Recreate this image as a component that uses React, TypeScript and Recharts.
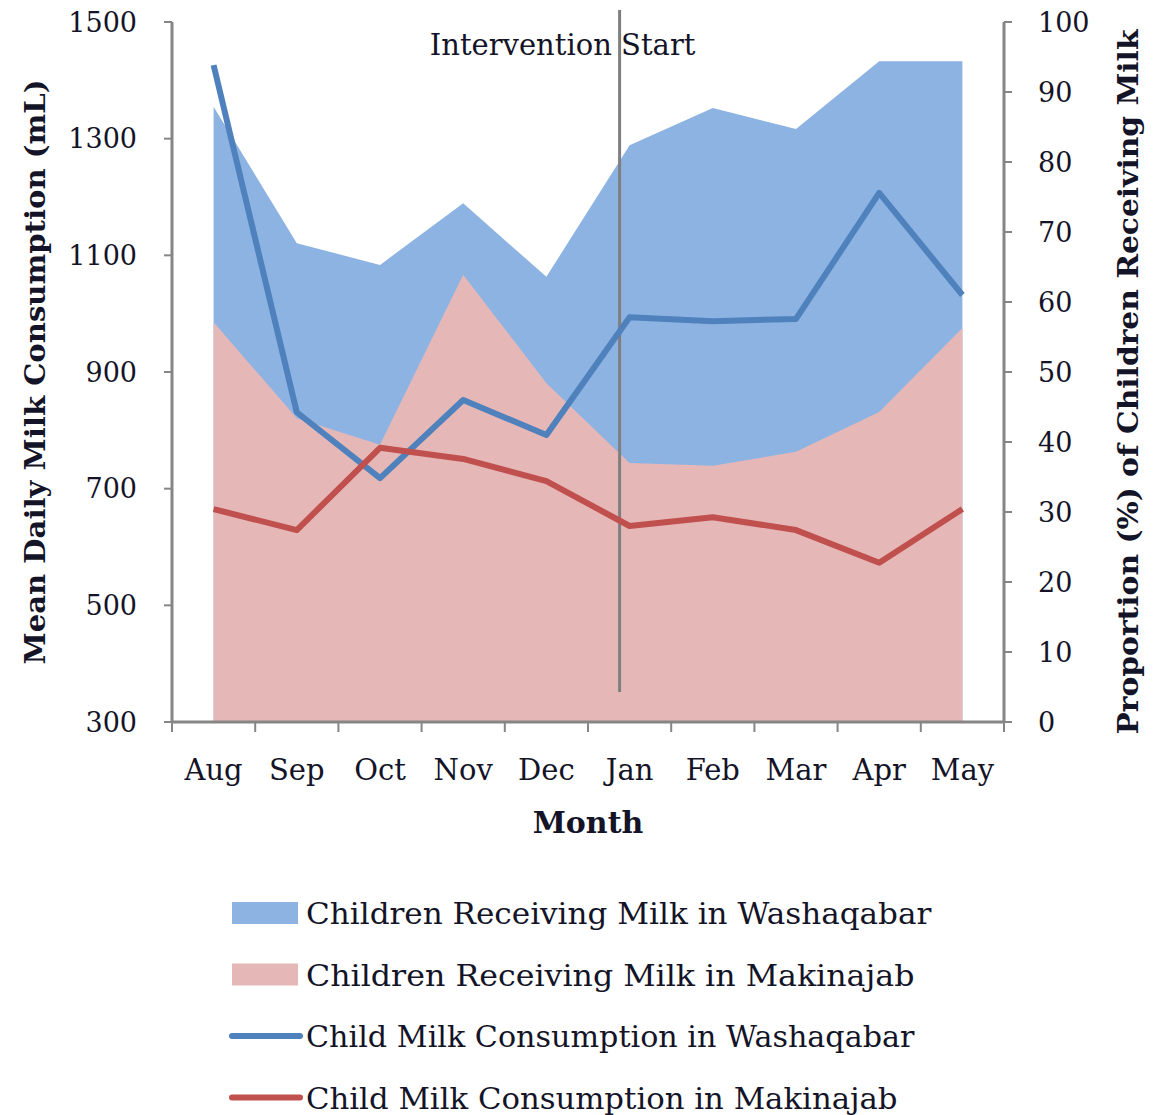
import React from "react";
import { ComposedChart, Area, Line, XAxis, YAxis, ReferenceLine } from "recharts";

// months on the x axis
const months = ["Aug", "Sep", "Oct", "Nov", "Dec", "Jan", "Feb", "Mar", "Apr", "May"];

// % of children receiving milk (right axis)
const receivingWashaqabar = [87.9, 68.4, 65.3, 74.1, 63.6, 82.4, 87.7, 84.7, 94.4, 94.4];
const receivingMakinajab = [57.1, 43.4, 39.6, 63.9, 48.4, 37.0, 36.6, 38.6, 44.3, 56.3];

// mean daily milk consumption in mL (left axis)
const consumptionWashaqabar = [1426, 831, 718, 852, 792, 994, 987, 991, 1207, 1032];
const consumptionMakinajab = [665, 629, 770, 751, 713, 636, 651, 629, 573, 665];

const leftTicks = [300, 500, 700, 900, 1100, 1300, 1500];
const rightTicks = [0, 10, 20, 30, 40, 50, 60, 70, 80, 90, 100];

const interventionMonth = "Jan";

const data = months.map((month, i) => ({
  month,
  recvW: receivingWashaqabar[i],
  recvM: receivingMakinajab[i],
  consW: consumptionWashaqabar[i],
  consM: consumptionMakinajab[i],
}));

const legendItems = [
  { name: "Children Receiving Milk in Washaqabar", color: "#8DB3E2", kind: "area" },
  { name: "Children Receiving Milk in Makinajab", color: "#E5B8B7", kind: "area" },
  { name: "Child Milk Consumption in Washaqabar", color: "#4F81BD", kind: "line" },
  { name: "Child Milk Consumption in Makinajab", color: "#C0504D", kind: "line" },
];

const FONT = "'DejaVu Serif', serif";
const AXIS = "#868686";
const TEXT = "#141428";
const HALF_BAND = 41.6;

const MonthTick = (props: any) => {
  const { x, y, payload, index } = props;
  const last = index === months.length - 1;
  return (
    <g>
      <line x1={x - HALF_BAND} x2={x - HALF_BAND} y1={y} y2={y + 10} stroke={AXIS} strokeWidth={2} />
      {last && <line x1={x + HALF_BAND} x2={x + HALF_BAND} y1={y} y2={y + 10} stroke={AXIS} strokeWidth={2} />}
      <text x={x} y={y + 58} textAnchor="middle" fontSize={29} fontFamily={FONT} fill={TEXT}>
        {payload.value}
      </text>
    </g>
  );
};

const InterventionShape = (props: any) => {
  const { x1, y1, x2, y2 } = props;
  const lx = x1 - 10;
  return (
    <g>
      <line x1={lx} x2={x2 - 10} y1={y1} y2={y2} stroke="#7F7F7F" strokeWidth={3} />
      <text x={lx - 57} y={y1 + 45} textAnchor="middle" fontSize={29} fontFamily={FONT} fill={TEXT}>
        Intervention Start
      </text>
    </g>
  );
};

const Legend4 = () => (
  <svg width={1161} height={235} style={{ position: "absolute", left: 0, top: 880 }}>
    {legendItems.map((item, i) => {
      const cy = 33 + i * 61.5;
      return (
        <g key={item.name}>
          {item.kind === "area" ? (
            <rect x={232} y={cy - 11} width={66} height={22} fill={item.color} />
          ) : (
            <line x1={232} x2={300} y1={cy} y2={cy} stroke={item.color} strokeWidth={6} strokeLinecap="round" />
          )}
          <text
            x={306}
            y={cy + 11}
            fontSize={30}
            fontFamily={FONT}
            fill={TEXT}
            textLength={item.name.length * 16.9}
            lengthAdjust="spacingAndGlyphs"
          >
            {item.name}
          </text>
        </g>
      );
    })}
  </svg>
);

export default function App() {
  return (
    <div style={{ position: "absolute", left: 0, top: 0, width: 1161, height: 1115, background: "#fff" }}>
      <ComposedChart width={1161} height={880} data={data} margin={{ top: 22, right: 0, bottom: 18, left: 0 }}>
        <XAxis
          dataKey="month"
          height={140}
          padding={{ left: HALF_BAND, right: HALF_BAND }}
          axisLine={{ stroke: AXIS, strokeWidth: 3 }}
          tickLine={false}
          tickSize={0}
          tickMargin={0}
          interval={0}
          tick={<MonthTick />}
          label={{
            content: ({ viewBox }: any) => (
              <text
                x={viewBox.x + viewBox.width / 2}
                y={viewBox.y + 111}
                textAnchor="middle"
                fontSize={30}
                fontWeight="bold"
                fontFamily={FONT}
                fill={TEXT}
              >
                Month
              </text>
            ),
          }}
        />
        <YAxis
          yAxisId="left"
          width={172}
          domain={[300, 1500]}
          ticks={leftTicks}
          interval={0}
          axisLine={{ stroke: AXIS, strokeWidth: 3 }}
          tickLine={{ stroke: AXIS, strokeWidth: 2 }}
          tickSize={8}
          tickMargin={27}
          tick={{ fontSize: 27, fontFamily: FONT, fill: TEXT }}
          label={{
            content: ({ viewBox }: any) => {
              const x = viewBox.x + 35;
              const y = viewBox.y + viewBox.height / 2;
              return (
                <text
                  x={x}
                  y={y}
                  dy="0.35em"
                  transform={`rotate(-90, ${x}, ${y})`}
                  textAnchor="middle"
                  fontSize={28}
                  fontWeight="bold"
                  fontFamily={FONT}
                  fill={TEXT}
                  textLength={585}
                  lengthAdjust="spacingAndGlyphs"
                >
                  Mean Daily Milk Consumption (mL)
                </text>
              );
            },
          }}
        />
        <YAxis
          yAxisId="right"
          orientation="right"
          width={157}
          domain={[0, 100]}
          ticks={rightTicks}
          interval={0}
          axisLine={{ stroke: AXIS, strokeWidth: 3 }}
          tickLine={{ stroke: AXIS, strokeWidth: 2 }}
          tickSize={8}
          tickMargin={26}
          tick={{ fontSize: 27, fontFamily: FONT, fill: TEXT }}
          label={{
            content: ({ viewBox }: any) => {
              const x = viewBox.x + 124;
              const y = viewBox.y + viewBox.height / 2 + 10;
              return (
                <text
                  x={x}
                  y={y}
                  dy="0.35em"
                  transform={`rotate(-90, ${x}, ${y})`}
                  textAnchor="middle"
                  fontSize={28}
                  fontWeight="bold"
                  fontFamily={FONT}
                  fill={TEXT}
                  textLength={705}
                  lengthAdjust="spacingAndGlyphs"
                >
                  Proportion (%) of Children Receiving Milk
                </text>
              );
            },
          }}
        />
        <Area
          yAxisId="right"
          type="linear"
          dataKey="recvW"
          fill="#8DB3E2"
          fillOpacity={1}
          stroke="none"
          isAnimationActive={false}
        />
        <Area
          yAxisId="right"
          type="linear"
          dataKey="recvM"
          fill="#E5B8B7"
          fillOpacity={1}
          stroke="none"
          isAnimationActive={false}
        />
        <ReferenceLine
          yAxisId="right"
          segment={[
            { x: interventionMonth, y: 101.7 },
            { x: interventionMonth, y: 4.3 },
          ]}
          ifOverflow="visible"
          shape={InterventionShape}
        />
        <Line
          yAxisId="left"
          type="linear"
          dataKey="consW"
          stroke="#4F81BD"
          strokeWidth={6}
          strokeLinejoin="round"
          dot={false}
          isAnimationActive={false}
        />
        <Line
          yAxisId="left"
          type="linear"
          dataKey="consM"
          stroke="#C0504D"
          strokeWidth={6}
          strokeLinejoin="round"
          dot={false}
          isAnimationActive={false}
        />
      </ComposedChart>
      <Legend4 />
    </div>
  );
}
